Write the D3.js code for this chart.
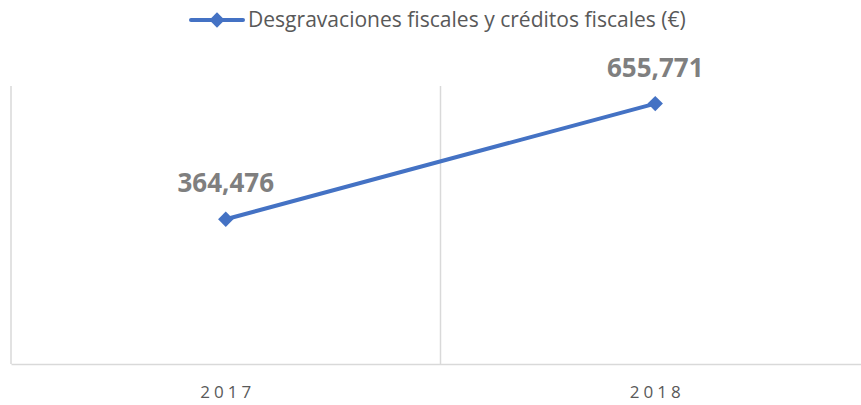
<!DOCTYPE html>
<html>
<head>
<meta charset="utf-8">
<script src="https://cdn.jsdelivr.net/npm/d3@7"></script>
<style>
  body { margin: 0; background: #fff; }
  text { font-family: "Open Sans", "Liberation Sans", sans-serif; }
</style>
</head>
<body>
<script>
const YEARS = ["2017", "2018"];
const VALUES = [364476, 655771];
const SERIES = "Desgravaciones fiscales y créditos fiscales (€)";

const width = 861,
  height = 405,
  plot = { left: 11, right: 870, top: 86, bottom: 364 };

const svg = d3
  .select("body")
  .append("svg")
  .attr("width", width)
  .attr("height", height);

const xScale = d3
  .scaleBand()
  .domain(YEARS)
  .range([plot.left, plot.right]);

const yScale = d3
  .scaleLinear()
  .domain([0, 700000])
  .range([plot.bottom, plot.top]);

// frame lines: left edge, category separator, bottom axis
const gridColor = "#d9d9d9";
svg.append("line")
  .attr("x1", plot.left).attr("x2", plot.left)
  .attr("y1", plot.top).attr("y2", plot.bottom)
  .attr("stroke", gridColor).attr("stroke-width", 1.5);

svg.selectAll(".sep")
  .data(YEARS.slice(1))
  .join("line")
  .attr("class", "sep")
  .attr("x1", d => xScale(d)).attr("x2", d => xScale(d))
  .attr("y1", plot.top).attr("y2", plot.bottom)
  .attr("stroke", gridColor).attr("stroke-width", 1.5);

const xAxis = d3.axisBottom(xScale).tickSize(0).tickSizeOuter(0);
const gx = svg.append("g")
  .attr("transform", `translate(0, ${plot.bottom})`)
  .call(xAxis);
gx.select(".domain").attr("stroke", gridColor).attr("stroke-width", 1.5);
gx.selectAll(".tick text")
  .attr("dy", 0)
  .attr("y", 34)
  .attr("dx", 2)
  .attr("fill", "#595959")
  .style("font-size", "17px")
  .style("letter-spacing", "4px")
  .style("font-family", '"Open Sans", sans-serif');

const blue = "#4472C4";
const points = YEARS.map((y, i) => ({ year: y, value: VALUES[i] }));
const cx = d => xScale(d.year) + xScale.bandwidth() / 2;

svg.append("path")
  .datum(points)
  .attr("fill", "none")
  .attr("stroke", blue)
  .attr("stroke-width", 4)
  .attr("stroke-linecap", "round")
  .attr("d", d3.line().x(cx).y(d => yScale(d.value)));

const diamond = d3.symbol().type(d3.symbolDiamond2).size(150);
svg.selectAll(".mk")
  .data(points)
  .join("path")
  .attr("class", "mk")
  .attr("transform", d => `translate(${cx(d)}, ${yScale(d.value)})`)
  .attr("d", diamond)
  .attr("fill", blue);

svg.selectAll(".lbl")
  .data(points)
  .join("text")
  .attr("class", "lbl")
  .attr("x", cx)
  .attr("y", d => yScale(d.value) - 27)
  .attr("text-anchor", "middle")
  .attr("fill", "#7f7f7f")
  .style("font-weight", "bold")
  .style("font-size", "26px")
  .text(d => d3.format(",")(d.value));

// legend
const lg = svg.append("g");
lg.append("line")
  .attr("x1", 191).attr("x2", 243)
  .attr("y1", 20).attr("y2", 20)
  .attr("stroke", blue).attr("stroke-width", 4)
  .attr("stroke-linecap", "round");
lg.append("path")
  .attr("transform", "translate(217, 20)")
  .attr("d", diamond)
  .attr("fill", blue);
const lt = lg.append("text")
  .attr("x", 248)
  .attr("y", 27)
  .attr("fill", "#595959")
  .style("font-size", "18px")
  .text(SERIES);
// fit legend text to reference width
const w = lt.node().getComputedTextLength();
lt.style("font-size", (18 * 438 / w).toFixed(2) + "px");
</script>
</body>
</html>
